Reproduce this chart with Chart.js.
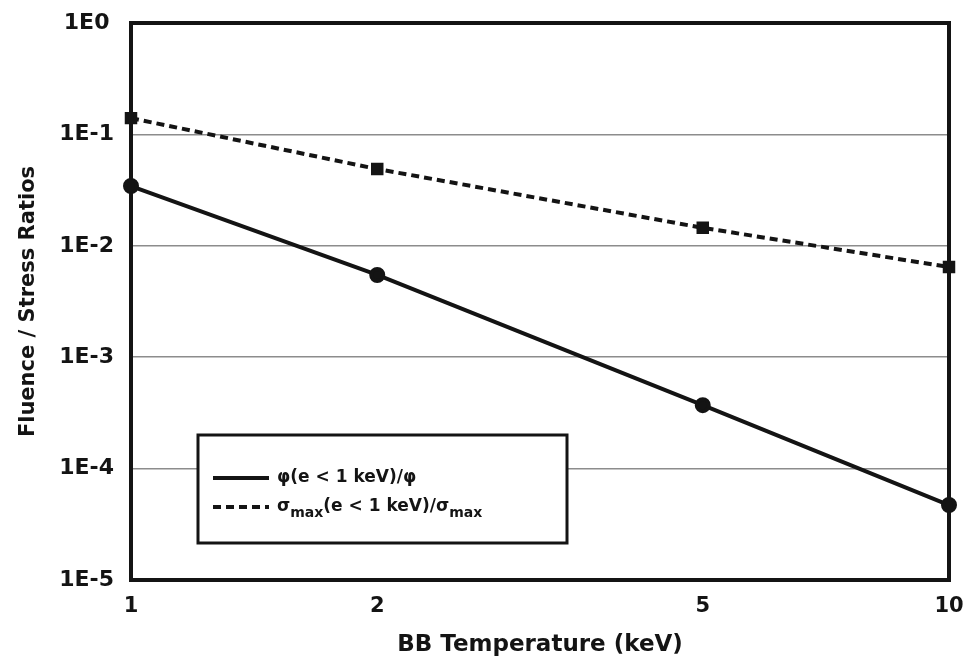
<!DOCTYPE html>
<html>
<head>
<meta charset="utf-8">
<script src="https://cdn.jsdelivr.net/npm/chart.js@4.4.1/dist/chart.umd.min.js"></script>
<style>
  html, body { margin: 0; padding: 0; background: #fff; }
  #wrap { width: 972px; height: 668px; position: relative; }
</style>
</head>
<body>
<div id="wrap"><canvas id="c" width="972" height="668"></canvas></div>
<script>
// Blackbody temperatures (keV)
const temperatures = [1, 2, 5, 10];
// Fluence ratio phi(e < 1 keV)/phi
const fluenceRatio = [0.0344, 0.00547, 0.000371, 0.0000471];
// Peak stress ratio sigma_max(e < 1 keV)/sigma_max
const stressRatio = [0.140, 0.0489, 0.0145, 0.00645];
// Axis tick values
const xTicks = [1, 2, 5, 10];
const yTicks = [1e-5, 1e-4, 1e-3, 1e-2, 1e-1, 1];

const FONT = '"DejaVu Sans", sans-serif';
const INK = '#141414';

function expLabel(v) {
  return '1E' + Math.round(Math.log10(v));
}

// Heavy frame around the plotting area
const framePlugin = {
  id: 'frame',
  afterDatasetsDraw(chart) {
    const { ctx, chartArea: a } = chart;
    ctx.save();
    ctx.strokeStyle = INK;
    ctx.lineWidth = 4;
    ctx.strokeRect(a.left, a.top, a.right - a.left, a.bottom - a.top);
    ctx.restore();
  }
};

// Boxed legend with subscripted labels
const legendBoxPlugin = {
  id: 'legendBox',
  afterDraw(chart) {
    const { ctx, chartArea: a } = chart;
    const x0 = a.left + 67, y0 = a.top + 412, w = 369, h = 108;
    ctx.save();
    ctx.fillStyle = '#fff';
    ctx.fillRect(x0, y0, w, h);
    ctx.strokeStyle = INK;
    ctx.lineWidth = 3;
    ctx.strokeRect(x0, y0, w, h);

    const rows = [
      { dash: [], y: y0 + 43, parts: [['φ(e < 1 keV)/φ', false]] },
      { dash: [8, 5], y: y0 + 72, parts: [['σ', false], ['max', true], ['(e < 1 keV)/σ', false], ['max', true]] }
    ];
    rows.forEach(r => {
      ctx.beginPath();
      ctx.setLineDash(r.dash);
      ctx.lineWidth = 4;
      ctx.strokeStyle = INK;
      ctx.moveTo(x0 + 15, r.y);
      ctx.lineTo(x0 + 71, r.y);
      ctx.stroke();
      ctx.setLineDash([]);
      let x = x0 + 79;
      ctx.fillStyle = INK;
      ctx.textBaseline = 'middle';
      r.parts.forEach(([t, sub]) => {
        ctx.font = sub ? 'bold 14px ' + FONT : 'bold 17px ' + FONT;
        ctx.fillText(t, x, sub ? r.y + 6 : r.y);
        x += ctx.measureText(t).width;
      });
    });
    ctx.restore();
  }
};

new Chart(document.getElementById('c'), {
  type: 'line',
  data: {
    datasets: [
      {
        label: 'φ(e < 1 keV)/φ',
        data: temperatures.map((t, i) => ({ x: t, y: fluenceRatio[i] })),
        borderColor: INK,
        backgroundColor: INK,
        borderWidth: 4,
        pointStyle: 'circle',
        pointRadius: 6,
        pointHoverRadius: 6,
        clip: false
      },
      {
        label: 'σmax(e < 1 keV)/σmax',
        data: temperatures.map((t, i) => ({ x: t, y: stressRatio[i] })),
        borderColor: INK,
        backgroundColor: INK,
        borderWidth: 4,
        borderDash: [8, 5],
        pointStyle: 'rect',
        pointRadius: 6,
        pointHoverRadius: 6,
        clip: false
      }
    ]
  },
  options: {
    responsive: false,
    animation: false,
    layout: { padding: { top: 23, right: 23, left: 0, bottom: 0 } },
    plugins: { legend: { display: false }, tooltip: { enabled: false } },
    scales: {
      x: {
        type: 'logarithmic',
        min: 1, max: 10,
        afterBuildTicks(s) { s.ticks = xTicks.map(v => ({ value: v })); },
        afterFit(s) { s.height = 88; s.paddingLeft = 0; s.paddingRight = 0; },
        grid: { display: false, drawTicks: false },
        border: { display: false },
        ticks: {
          padding: 14,
          color: INK,
          font: { family: FONT, size: 21, weight: 'bold' },
          callback: v => String(v),
          maxRotation: 0,
          autoSkip: false
        },
        title: {
          display: true,
          text: 'BB Temperature (keV)',
          color: INK,
          font: { family: FONT, size: 23, weight: 'bold' },
          padding: { top: 0, bottom: 9 }
        }
      },
      y: {
        type: 'logarithmic',
        min: 1e-5, max: 1,
        afterBuildTicks(s) { s.ticks = yTicks.map(v => ({ value: v })); },
        afterFit(s) { s.width = 131; s.paddingTop = 0; s.paddingBottom = 0; },
        grid: { color: '#8c8c8c', lineWidth: 1.5, drawTicks: false },
        border: { display: false },
        ticks: {
          padding: 17,
          crossAlign: 'center',
          color: INK,
          font: { family: FONT, size: 22, weight: 'bold' },
          callback: v => expLabel(v),
          autoSkip: false
        },
        title: {
          display: true,
          text: 'Fluence / Stress Ratios',
          color: INK,
          font: { family: FONT, size: 21, weight: 'bold' },
          padding: { top: 16, bottom: 0 }
        }
      }
    }
  },
  plugins: [framePlugin, legendBoxPlugin]
});
</script>
</body>
</html>
